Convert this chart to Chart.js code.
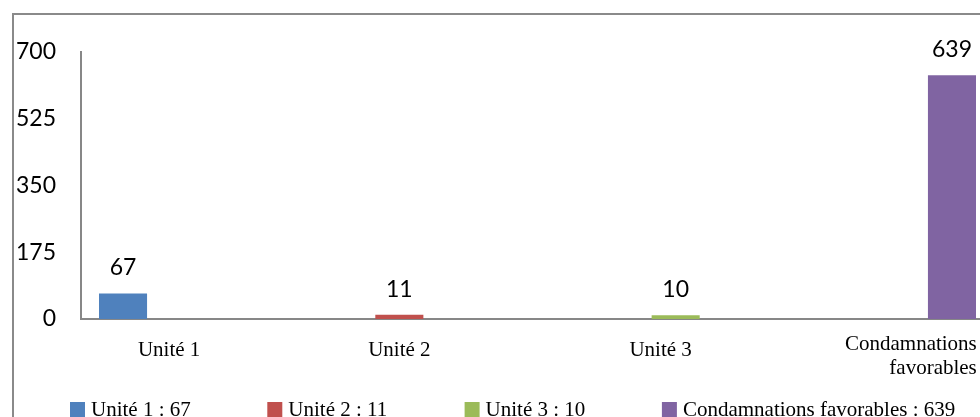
<!DOCTYPE html>
<html lang="fr">
<head>
<meta charset="utf-8">
<title>Condamnations par unité</title>
<script src="https://cdn.jsdelivr.net/npm/chart.js@4/dist/chart.umd.min.js"></script>
<style>
  html, body { margin: 0; padding: 0; background: #fff; overflow: hidden; }
  #wrap { width: 1004px; height: 417px; }
  canvas { display: block; }
</style>
</head>
<body>
<div id="wrap"><canvas id="chart" width="1004" height="417"></canvas></div>
<script>
// Series names, one per category, and their values
const seriesNames = ['Unité 1', 'Unité 2', 'Unité 3', 'Condamnations favorables'];
const seriesValues = [67, 11, 10, 639];
// Axis labels for the categories (the last one wraps on two lines)
const categoryLabels = [['Unité 1'], ['Unité 2'], ['Unité 3'], ['Condamnations', 'favorables']];
// Value axis ticks
const yTicks = [0, 175, 350, 525, 700];
const seriesColors = ['#4F81BD', '#C0504D', '#9BBB59', '#8064A2'];

const AXIS_GREY = '#878787';
const SANS = 'Lato, "Open Sans", sans-serif';
const SERIF = '"Liberation Serif", "Times New Roman", serif';

// Each series only has a value in its own category; empty slots stay reserved
const datasets = seriesNames.map((name, i) => ({
  label: name,
  data: categoryLabels.map((_, j) => (j === i ? seriesValues[i] : null)),
  backgroundColor: seriesColors[i],
  borderWidth: 0,
  categoryPercentage: 0.8423,
  barPercentage: 1.0
}));

// White background and outer frame
const framePlugin = {
  id: 'frame',
  beforeDraw(chart) {
    const ctx = chart.ctx;
    ctx.save();
    ctx.fillStyle = '#ffffff';
    ctx.fillRect(0, 0, chart.width, chart.height);
    ctx.strokeStyle = '#8a8a8a';
    ctx.lineWidth = 2;
    ctx.strokeRect(13, 14, chart.width + 20, chart.height + 20);
    ctx.restore();
  }
};

// Value written above each bar
const valueLabelPlugin = {
  id: 'valueLabels',
  afterDatasetsDraw(chart) {
    const ctx = chart.ctx;
    ctx.save();
    ctx.font = '23px ' + SANS;
    ctx.fillStyle = '#000';
    ctx.textAlign = 'center';
    ctx.textBaseline = 'alphabetic';
    chart.data.datasets.forEach((ds, i) => {
      const meta = chart.getDatasetMeta(i);
      meta.data.forEach((el, j) => {
        const v = ds.data[j];
        if (v === null || v === undefined) return;
        ctx.fillText(String(v), el.x, el.y - 18);
      });
    });
    ctx.restore();
  }
};

// Category labels under the axis
const categoryLabelPlugin = {
  id: 'categoryLabels',
  afterDraw(chart) {
    const ctx = chart.ctx;
    const xs = chart.scales.x;
    const base = chart.chartArea.bottom;
    const nudge = [-26, -24, 9, 31];
    ctx.save();
    ctx.font = '21px ' + SERIF;
    ctx.fillStyle = '#000';
    ctx.textBaseline = 'alphabetic';
    categoryLabels.forEach((lines, j) => {
      const cx = xs.getPixelForValue(j) + nudge[j];
      if (lines.length === 1) {
        ctx.textAlign = 'center';
        ctx.fillText(lines[0], cx, base + 37);
      } else {
        const w = Math.max(...lines.map(l => ctx.measureText(l).width));
        ctx.textAlign = 'right';
        lines.forEach((l, k) => ctx.fillText(l, cx + w / 2, base + 31 + k * 23.5));
      }
    });
    ctx.restore();
  }
};

// Legend row: colour square followed by "name : value"
const legendPlugin = {
  id: 'legendRow',
  afterDraw(chart) {
    const ctx = chart.ctx;
    ctx.save();
    ctx.font = '21px ' + SERIF;
    ctx.textAlign = 'left';
    ctx.textBaseline = 'alphabetic';
    chart.data.datasets.forEach((ds, i) => {
      const x = 70 + i * 197.3;
      ctx.fillStyle = ds.backgroundColor;
      ctx.fillRect(x, 402, 15, 15);
      ctx.fillStyle = '#000';
      ctx.fillText(ds.label + ' : ' + seriesValues[i], x + 21, 416);
    });
    ctx.restore();
  }
};

new Chart(document.getElementById('chart'), {
  type: 'bar',
  data: { labels: categoryLabels.map(l => l.join(' ')), datasets },
  options: {
    responsive: false,
    animation: false,
    devicePixelRatio: 1,
    layout: { padding: { top: 52, left: 14, right: 10, bottom: 0 } },
    plugins: {
      legend: { display: false },
      tooltip: { enabled: false }
    },
    scales: {
      x: {
        grid: { display: false, drawTicks: false },
        border: { display: true, color: AXIS_GREY, width: 2 },
        ticks: { display: false },
        afterFit(scale) { scale.height = 98; }
      },
      y: {
        min: yTicks[0],
        max: yTicks[yTicks.length - 1],
        grid: { display: false, drawTicks: false },
        border: { display: true, color: AXIS_GREY, width: 2 },
        ticks: {
          stepSize: yTicks[1] - yTicks[0],
          padding: 25,
          color: '#000',
          font: { family: SANS, size: 23 }
        },
        afterBuildTicks(scale) { scale.ticks = yTicks.map(v => ({ value: v })); },
        afterFit(scale) { scale.width = 67; }
      }
    }
  },
  plugins: [framePlugin, valueLabelPlugin, categoryLabelPlugin, legendPlugin]
});
</script>
</body>
</html>
